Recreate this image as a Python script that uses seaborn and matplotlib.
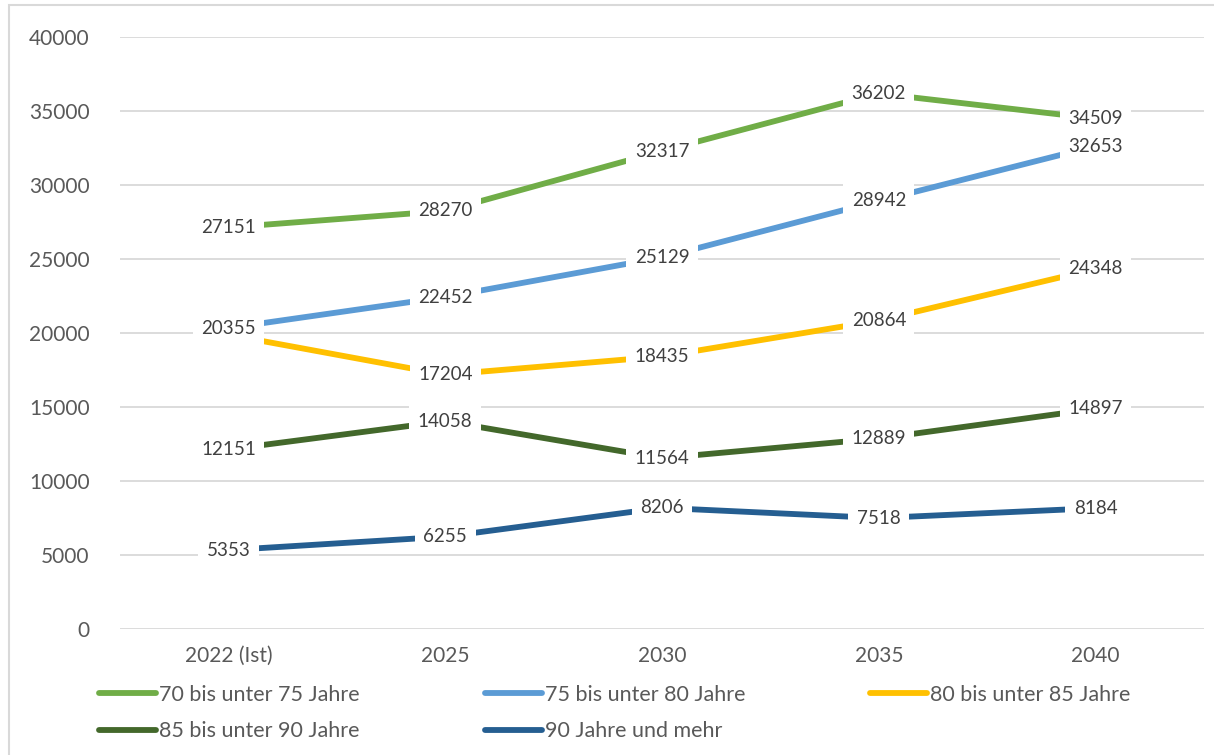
import matplotlib
matplotlib.use("Agg")
import matplotlib.pyplot as plt
import matplotlib.patches as mpatches
import seaborn as sns
import pandas as pd

categories = ["2022 (Ist)", "2025", "2030", "2035", "2040"]
series_names = ["70 bis unter 75 Jahre", "75 bis unter 80 Jahre", "80 bis unter 85 Jahre",
                "85 bis unter 90 Jahre", "90 Jahre und mehr"]
s70 = [27151, 28270, 32317, 36202, 34509]
s75 = [20355, 22452, 25129, 28942, 32653]
s80 = [19900, 17204, 18435, 20864, 24348]
s85 = [12151, 14058, 11564, 12889, 14897]
s90 = [5353, 6255, 8206, 7518, 8184]
# labels shown on the chart (first yellow point carries no label of its own)
lab80 = [None, 17204, 18435, 20864, 24348]
colors = ["#70AD47", "#5B9BD5", "#FFC000", "#43682B", "#255E91"]

values = [s70, s75, s80, s85, s90]
labels = [s70, s75, lab80, s85, s90]

rows = []
for name, vals in zip(series_names, values):
    for c, v in zip(categories, vals):
        rows.append({"Jahr": c, "Wert": v, "Gruppe": name})
df = pd.DataFrame(rows)

sns.set_theme(style="white")
plt.rcParams["font.family"] = ["Lato", "DejaVu Sans"]
text_col = "#595959"

fig = plt.figure(figsize=(12.14, 7.55), dpi=100)
ax = fig.add_axes([120/1214, 1-629.3/755, (1204-120)/1214, (629.3-37.3)/755])

sns.lineplot(data=df, x="Jahr", y="Wert", hue="Gruppe", hue_order=series_names,
             palette=colors, linewidth=4.2, sort=False, ax=ax, legend=False, zorder=3)
for line in ax.get_lines():
    line.set_solid_capstyle("butt")

for vals, labs in zip(values, labels):
    for i, (v, l) in enumerate(zip(vals, labs)):
        if l is None:
            continue
        ax.text(i, v, f"{l}", ha="center", va="center", fontsize=13.5, color="#404040",
                zorder=5, bbox=dict(boxstyle="square,pad=0.45", fc="white", ec="none"))

ax.set_xlim(-0.5, len(categories) - 0.5)
ax.set_ylim(0, 40000)
ax.set_yticks(range(0, 40001, 5000))
ax.yaxis.grid(True, color="#D9D9D9", linewidth=1.3, zorder=0)
ax.xaxis.grid(False)
ax.set_axisbelow(True)
for sp in ax.spines.values():
    sp.set_visible(False)
ax.set_xlabel("")
ax.set_ylabel("")
ax.tick_params(axis="y", length=0, pad=22, labelsize=15, labelcolor=text_col)
ax.tick_params(axis="x", length=0, pad=12, labelsize=15, labelcolor=text_col)

handles = [plt.Line2D([], [], color=c, linewidth=4.2, solid_capstyle="round") for c in colors]
# matplotlib fills legend columns first; reorder so rows read left to right
order = [0, 3, 1, 4, 2]
fig.legend([handles[k] for k in order], [series_names[k] for k in order],
           loc="upper left", bbox_to_anchor=(99/1214, 1-685/755),
           ncol=3, frameon=False, fontsize=15.5, handlelength=2.65, handletextpad=0.14,
           columnspacing=5.8, labelspacing=0.75, borderpad=0, borderaxespad=0,
           labelcolor=text_col)

fig.patches.append(mpatches.Rectangle((9/1214, -0.1), 1.2, 1.1 - 5/755, transform=fig.transFigure,
                                      fill=False, edgecolor="#D9D9D9", linewidth=1.5))

fig.savefig("out.png", dpi=100)
